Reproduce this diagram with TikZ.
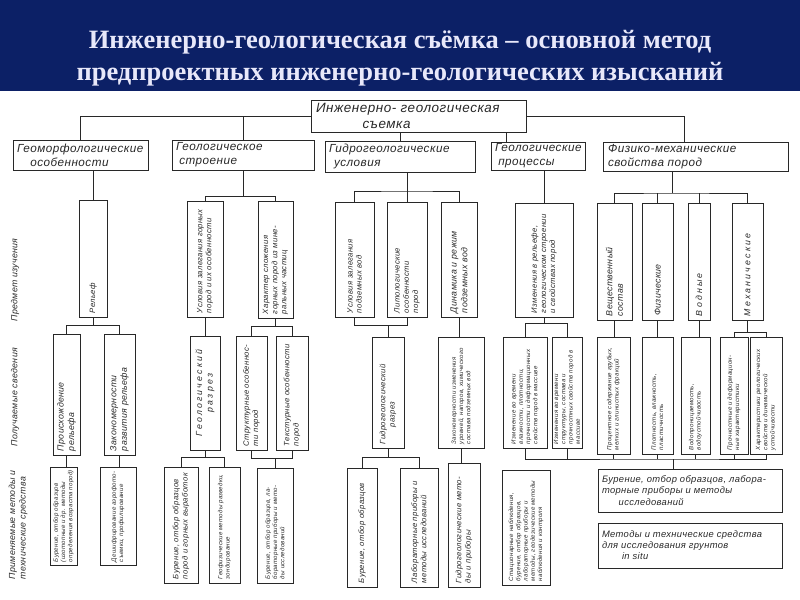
\documentclass[tikz,border=0pt]{standalone}
\usepackage{graphicx}
\usepackage{fontspec}
\setmainfont{Liberation Serif}
\newfontfamily\hand[LetterSpace=4.0]{Liberation Sans}

\definecolor{navy}{RGB}{12,32,102}
\definecolor{titlec}{RGB}{232,232,250}
\definecolor{ink}{RGB}{40,40,40}

\newlength\pxl \setlength\pxl{0.3mm}
\newcommand\vt[2]{\rotatebox{90}{\parbox{#1\pxl}{\raggedright #2}}}
\newcommand\htx[2]{\parbox{#1\pxl}{\raggedright #2}}

\tikzset{
  corners/.style n args={4}{minimum width={(#3-#1)*0.3mm}, minimum height={(#4-#2)*0.3mm},
    at={({(#1+#3)/2},{(#2+#4)/2})}},
  box/.style={draw=ink, line width=0.6pt, inner sep=0pt, text=ink},
  hb/.style={box, font=\hand\itshape\fontsize{10}{12}\selectfont},
  hs/.style={box, font=\hand\itshape\fontsize{8}{9.5}\selectfont},
  vl/.style={box, font=\hand\itshape\fontsize{7.5}{9}\selectfont},
  vb/.style={box, font=\hand\itshape\fontsize{6.6}{7.8}\selectfont},
  vs/.style={box, font=\hand\itshape\fontsize{5.2}{6.2}\selectfont},
  side/.style={text=ink, rotate=90, align=left, font=\hand\itshape\fontsize{7.5}{9}\selectfont},
  link/.style={draw=ink, line width=0.6pt},
}

\begin{document}
\begin{tikzpicture}[x=0.3mm, y=-0.3mm]
  \useasboundingbox (0,0) rectangle (800,600);

  % Header
  \fill[navy] (0,0) rectangle (800,91);
  \node[text=titlec, align=center, font=\bfseries\fontsize{22.6}{27}\selectfont] (ttl) at (400,58)
    {Инженерно-геологическая съёмка – основной метод\\предпроектных инженерно-геологических изысканий};

  % Top level
  \node[box, font=\hand\itshape\fontsize{11.5}{13.5}\selectfont, corners={311}{100}{526}{132}] (root)
    {\htx{205}{Инженерно- геологическая\\\hspace*{14mm}съемка}};
  \node[hb, corners={13}{140}{148}{170}] (b1) {\htx{127}{Геоморфологические\\\hspace*{4mm}особенности}};
  \node[hb, corners={172}{140}{314}{170}] (b2) {\htx{134}{Геологическое\\\hspace*{1mm}строение}};
  \node[hb, corners={325}{141}{475}{172}] (b3) {\htx{142}{Гидрогеологические\\\hspace*{1.5mm}условия}};
  \node[hb, corners={491}{142}{585}{170}] (b4) {\htx{86}{Геологические\\\hspace*{1mm}процессы}};
  \node[hb, corners={603}{142}{788}{171}] (b5) {\htx{175}{Физико-механические\\свойства пород}};

  \draw[link] (root.west) -| (b1.north);
  \draw[link] (root.west) -| (b2.north);
  \draw[link] (root.east) -| ([xshift=-11\pxl]b5.north);
  \draw[link] (root.south -| b3.north) -- (b3.north);
  \draw[link] (root.south -| b4.north west) ++(16,0) -- ++(0,10);

  % Side labels
  \node[side] (ls1) at (15,280) {Предмет изучения};
  \node[side] (ls2) at (15,397) {Получаемые сведения};
  \node[side] (ls3) at (18,525) {Применяемые методы и\\технические средства};

  % Column 1
  \node[vb, corners={79}{200}{107}{317}] (rel) {\vt{109}{Рельеф}};
  \node[vl, corners={53}{334}{80}{455}] (org) {\vt{113}{Происхождение\\рельефа}};
  \node[vl, corners={104}{334}{135}{455}] (zak1) {\vt{113}{Закономерности\\развития рельефа}};
  \node[vs, corners={50}{467}{77}{565}] (bur1) {\vt{92}{Бурение, отбор образцов (изотопные и др. методы определения возраста пород)}};
  \node[vs, corners={100}{467}{136}{565}] (aer1) {\vt{92}{Дешифрирование аэрофото-\\съемки, профилирование}};

  \draw[link] (b1.south -| rel.north) -- (rel.north);
  \draw[link] (rel.south) -- ++(0,8) -| (org.north);
  \draw[link] (rel.south) ++(0,8) -| (zak1.north);
  \draw[link] (org.south) -- (org.south |- bur1.north);
  \draw[link] (zak1.south) -- (zak1.south |- aer1.north);

  % Column 2
  \node[vb, corners={187}{201}{223}{317}] (usl) {\vt{108}{Условия залегания горных\\пород и их особенности}};
  \node[vb, corners={258}{201}{293}{318}] (har) {\vt{109}{Характер сложения\\горных пород из мине-\\ральных частиц}};
  \node[vl, corners={190}{336}{220}{450}] (gr) {\vt{106}{\centering\addfontfeature{LetterSpace=25}Геологический\\разрез}};
  \node[vb, corners={236}{336}{267}{450}] (str) {\vt{106}{Структурные особеннос-\\ти пород}};
  \node[vb, corners={276}{336}{308}{450}] (tex) {\vt{106}{Текстурные особенности\\пород}};
  \node[vb, corners={164}{467}{198}{583}] (bur2) {\vt{108}{Бурение, отбор образцов\\пород и горных выработок}};
  \node[vs, corners={209}{467}{240}{583}] (geo2) {\vt{108}{Геофизические методы разведки,\\зондирование}};
  \node[vs, corners={257}{468}{293}{583}] (lab2) {\vt{107}{Бурение, отбор образцов, ла-\\бораторные приборы и мето-\\ды исследований}};

  \draw[link] (b2.south) -- ++(0,26) -| (usl.north);
  \draw[link] (b2.south) ++(0,26) -| (har.north);
  \draw[link] (usl.south) -- (usl.south |- gr.north);
  \draw[link] (har.south) -- ++(0,8) -| (str.north);
  \draw[link] (har.south) ++(0,8) -| (tex.north);
  \draw[link] (gr.south) -- ++(0,7) -| (bur2.north);
  \draw[link] (gr.south) ++(0,7) -| (geo2.north);
  \draw[link] (str.south) -- ++(0,8) -| (tex.south);
  \draw[link] (lab2.north) -- ++(0,-10);

  % Column 3
  \coordinate (j3) at (407,191);
  \node[vb, corners={335}{202}{374}{317}] (cond) {\vt{107}{Условия залегания\\подземных вод}};
  \node[vb, corners={387}{202}{427}{317}] (lit) {\vt{107}{Литологические\\особенности\\пород}};
  \node[vl, corners={441}{202}{477}{317}] (dyn) {\vt{107}{Динамика и режим\\подземных вод}};
  \node[vb, corners={372}{337}{404}{448}] (gidr) {\vt{103}{Гидрогеологический\\\hspace*{5mm}разрез}};
  \node[vs, corners={438}{337}{484}{448}] (zak3) {\vt{103}{Закономерности изменения уровней, напоров, химического состава подземных вод}};
  \node[vb, corners={347}{468}{377}{587}] (bur3) {\vt{111}{Бурение, отбор образцов}};
  \node[vb, corners={400}{468}{438}{587}] (lab3) {\vt{111}{Лабораторные приборы и\\методы исследований}};
  \node[vb, corners={448}{463}{480}{587}] (gm3) {\vt{116}{Гидрогеологические мето-\\ды и приборы}};

  \draw[link] (j3 |- b3.south) -- (j3);
  \draw[link] (cond.north) |- (j3) -| (dyn.north);
  \draw[link] (lit.north) -- (lit.north |- j3);
  \draw[link] (cond.south) -- ++(0,8) -| (lit.south);
  \draw[link] (gidr.north) -- ++(0,-12);
  \draw[link] (dyn.south) -- (dyn.south |- zak3.north);
  \draw[link] (gidr.south) -- ++(0,9) -| (bur3.north);
  \draw[link] (gidr.south) ++(0,9) -| (lab3.north);
  \draw[link] (zak3.south) -- (zak3.south |- gm3.north);

  % Column 4
  \node[vb, corners={515}{203}{573}{317}] (izm) {\vt{106}{Изменения в рельефе,\\геологическом строении\\и свойствах пород}};
  \node[vs, corners={503}{337}{547}{448}] (izm1) {\vt{103}{Изменение во времени влажности, плотности, прочности и деформационных свойств пород в массиве}};
  \node[vs, corners={552}{337}{582}{448}] (izm2) {\vt{103}{Изменения во времени структуры, состава и прочностных свойств пород в массиве}};
  \node[vs, corners={502}{470}{550}{585}] (st4) {\vt{107}{Стационарные наблюдения, бурение, отбор образцов, лабораторные приборы и методы, геодезические методы наблюдения и контроля}};

  \draw[link] (izm.north) -- (izm.north |- b4.south);
  \draw[link] (izm.south) -- ++(0,6) -| (izm1.north);
  \draw[link] (izm.south) ++(0,6) -| (izm2.north);

  % Column 5
  \coordinate (j5) at (672,193);
  \coordinate (j6) at (673,459);
  \node[vl, corners={597}{203}{632}{320}] (vesh) {\vt{109}{Вещественный\\состав}};
  \node[vl, corners={642}{203}{673}{320}] (fiz) {\vt{109}{Физические}};
  \node[vl, corners={688}{203}{710}{320}] (vod) {\vt{109}{\addfontfeature{LetterSpace=25}Водные}};
  \node[vl, corners={732}{203}{763}{320}] (mech) {\vt{109}{\addfontfeature{LetterSpace=25}Механические}};
  \node[vs, corners={597}{337}{630}{454}] (vesh2) {\vt{109}{Процентное содержание грубых, мелких и глинистых фракций}};
  \node[vs, corners={642}{337}{673}{454}] (fiz2) {\vt{109}{Плотность, влажность,\\пластичность}};
  \node[vs, corners={681}{337}{710}{454}] (vod2) {\vt{109}{Водопроницаемость,\\водоустойчивость}};
  \node[vs, corners={720}{337}{748}{454}] (mech2a) {\vt{109}{Прочностные и деформацион-\\ные характеристики}};
  \node[vs, corners={750}{337}{782}{454}] (mech2b) {\vt{109}{Характеристики реологических свойств и динамической устойчивости}};
  \node[hs, corners={598}{469}{782}{512}] (bur5) {\htx{176}{Бурение, отбор образцов, лабора-\\торные приборы и методы\\\hspace*{5mm}исследований}};
  \node[hs, corners={598}{523}{782}{568}] (met5) {\htx{176}{Методы и технические средства\\для исследования грунтов\\\hspace*{6mm}in situ}};

  \draw[link] (j5 |- b5.south) -- (j5);
  \draw[link] (vesh.north) |- (j5) -| (mech.north);
  \draw[link] (fiz.north) -- (fiz.north |- j5);
  \draw[link] (vod.north) -- (vod.north |- j5);
  \draw[link] (vesh.south) -- (vesh.south |- vesh2.north);
  \draw[link] (fiz.south) -- (fiz.south |- fiz2.north);
  \draw[link] (vod.south) -- (vod.south |- vod2.north);
  \draw[link] (mech.south) -- ++(0,12) -| (mech2a.north);
  \draw[link] (mech.south) ++(0,12) -| (mech2b.north);

  % Bottom bus
  \draw[link] (izm1.south) |- (j6) -| (mech2b.south);
  \foreach \n in {izm2,vesh2,fiz2,vod2,mech2a}
    \draw[link] (\n.south) -- (\n.south |- j6);
  \draw[link] (j6) -- (j6 |- bur5.north);

\end{tikzpicture}
\end{document}
